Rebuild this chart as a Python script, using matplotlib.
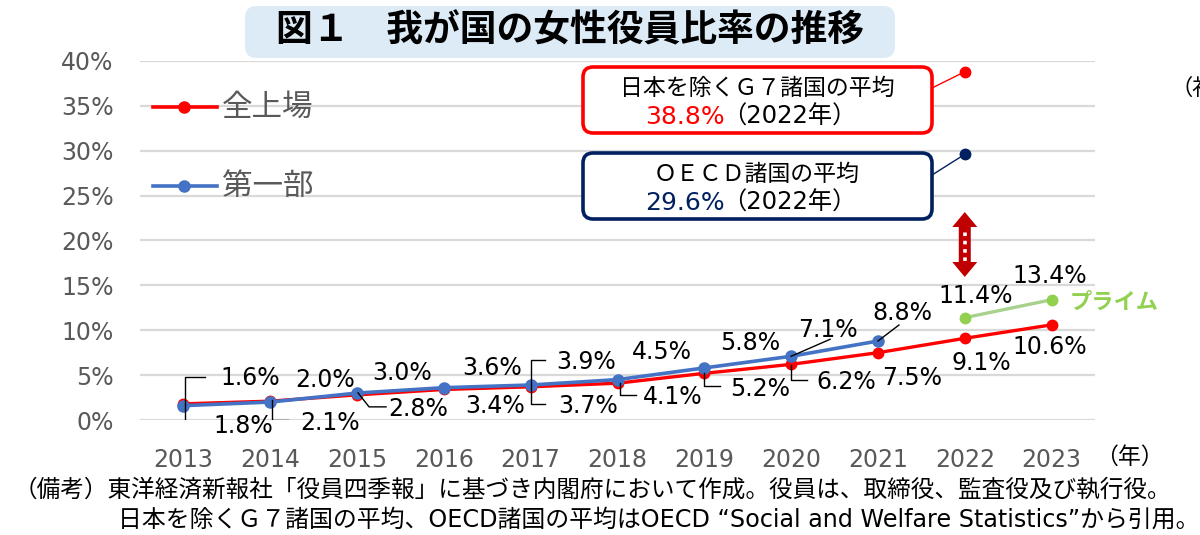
import matplotlib
matplotlib.use("Agg")
import matplotlib.pyplot as plt
from matplotlib.patches import FancyBboxPatch, Polygon
from matplotlib.transforms import IdentityTransform

plt.rcParams['font.family'] = ['DejaVu Sans', 'Noto Sans CJK JP']

# data
years = [2013, 2014, 2015, 2016, 2017, 2018, 2019, 2020, 2021, 2022, 2023]
zenjo = [1.8, 2.1, 2.8, 3.4, 3.7, 4.1, 5.2, 6.2, 7.5, 9.1, 10.6]
ichibu_years = [2013, 2014, 2015, 2016, 2017, 2018, 2019, 2020, 2021]
ichibu = [1.6, 2.0, 3.0, 3.6, 3.9, 4.5, 5.8, 7.1, 8.8]
prime_years = [2022, 2023]
prime = [11.4, 13.4]
ref_year = 2022
g7_avg = 38.8
oecd_avg = 29.6
yticks = [0, 5, 10, 15, 20, 25, 30, 35, 40]

# label offsets in pixels (dx, dy up)
zenjo_off = [(60, -22), (60, -22), (61, -14), (51, -17), (57, -19), (55, -14),
             (56, -16), (55, -18), (34, -25), (17, -25), (-2, -22)]
ichibu_off = [(67, 28), (55, 22), (45, 20), (48, 20), (55, 23), (44, 28),
              (46, 25), (37, 26), (24, 28)]
prime_off = [(11, 22), (-2, 24)]

# leader lines: (series, index, vertices as pixel offsets from the point)
leaders = [
    ('z', 0, [(22, 27), (2, 27), (2, -19), (22, -19)]),
    ('z', 1, [(2, 1), (2, -19), (18, -19)]),
    ('z', 2, [(1, 2), (12, -12), (29, -12)]),
    ('z', 4, [(14, 27), (0, 27), (0, -17), (14, -17)]),
    ('z', 5, [(2, 0), (2, -12), (18, -12)]),
    ('z', 6, [(0, 0), (0, -13), (16, -13)]),
    ('i', 7, [(0, 0), (39, 17)]),
    ('z', 7, [(0, -1), (0, -16), (16, -16)]),
    ('i', 8, [(0, 0), (21, 16)]),
]

RED = '#FF0000'
BLUE = '#4472C4'
NAVY = '#002060'
GREEN = '#92D050'
GREEN_L = '#A9D18E'
GRAY = '#595959'

W, H = 1200, 535
fig = plt.figure(figsize=(W / 100, H / 100), dpi=100)
L, R, T, B = 140, 1095, 61, 420
ax = fig.add_axes([L / W, 1 - B / H, (R - L) / W, (B - T) / H])
ax.set_xlim(2012.5, 2023.5)
ax.set_ylim(0, 40)
kx = 11 / (R - L)
ky = 40 / (B - T)

ax.set_yticks(yticks)
ax.set_yticklabels(['%d%%' % v for v in yticks])
ax.set_xticks(years)
ax.set_xticklabels([str(y) for y in years])
ax.yaxis.grid(True, color='#D9D9D9', lw=1.6)
ax.set_axisbelow(True)
for s in ax.spines.values():
    s.set_visible(False)
ax.tick_params(axis='y', length=0, pad=19, labelsize=17, labelcolor=GRAY)
ax.tick_params(axis='x', length=0, pad=20, labelsize=17, labelcolor=GRAY)

# lines
ax.plot(years, zenjo, color=RED, lw=2.4, marker='o', ms=7.5, zorder=3)
ax.plot(ichibu_years, ichibu, color=BLUE, lw=2.6, marker='o', ms=8, zorder=4)
ax.plot(prime_years, prime, color=GREEN_L, lw=2.4, zorder=3)
ax.plot(prime_years, prime, ls='none', color=GREEN, marker='o', ms=7.5, zorder=3)
ax.plot([ref_year], [g7_avg], 'o', color=RED, ms=7.5, zorder=4)
ax.plot([ref_year], [oecd_avg], 'o', color=NAVY, ms=7.5, zorder=4)

# data labels
def label(xs, vs, offs):
    for x, v, (dx, dy) in zip(xs, vs, offs):
        ax.text(x + dx * kx, v + dy * ky, '%.1f%%' % v, ha='center', va='center',
                fontsize=17, color='black', zorder=5)

label(years, zenjo, zenjo_off)
label(ichibu_years, ichibu, ichibu_off)
label(prime_years, prime, prime_off)

for ser, i, verts in leaders:
    if ser == 'z':
        x0, y0 = years[i], zenjo[i]
    else:
        x0, y0 = ichibu_years[i], ichibu[i]
    ax.plot([x0 + dx * kx for dx, dy in verts], [y0 + dy * ky for dx, dy in verts],
            color='black', lw=1.0, zorder=5)

ax.text(2023 + 18 * kx, 13.4 - 0.3, 'プライム', color=GREEN, fontsize=16, fontweight='bold',
        ha='left', va='center', family=['Noto Sans CJK JP'])

# legend drawn by hand
def px(x, y):
    return x, H - y

for yy, col, name in [(107, RED, '全上場'), (186, BLUE, '第一部')]:
    fig.add_artist(plt.Line2D([153 / W, 217 / W], [1 - yy / H, 1 - yy / H], color=col, lw=2.6))
    fig.add_artist(plt.Line2D([184 / W], [1 - yy / H], color=col, marker='o', ms=8))
    fig.text(222 / W, 1 - yy / H, name, fontsize=22, color=GRAY, va='center', ha='left',
             family=['Noto Sans CJK JP'])

# title box
tb = FancyBboxPatch(px(245, 58), 650, 52, boxstyle='round,pad=0,rounding_size=12',
                    transform=IdentityTransform(), fc='#DDEBF7', ec='none')
fig.add_artist(tb)
fig.text(570 / W, 1 - 31 / H, '図１　我が国の女性役員比率の推移', fontsize=26.5, fontweight='bold',
         ha='center', va='center', family=['Noto Sans CJK JP'])

# callout boxes (figure level, drawn over the axes)
for top, col, head, val, val_y, lead_y in [(67, RED, '日本を除くＧ７諸国の平均', g7_avg, 117, 88),
                                          (153, NAVY, 'ＯＥＣＤ諸国の平均', oecd_avg, 203, 175)]:
    bx = FancyBboxPatch(px(583, top + 66), 349, 66, boxstyle='round,pad=0,rounding_size=10',
                        transform=IdentityTransform(), fc='white', ec=col, lw=2.6, zorder=6)
    fig.add_artist(bx)
    fig.text(757 / W, 1 - (top + 21) / H, head, fontsize=16.5, ha='center', va='center',
             family=['Noto Sans CJK JP', 'DejaVu Sans'], zorder=7)
    fig.text(645 / W, 1 - val_y / H, '%.1f%%' % val, fontsize=18, color=col,
             ha='left', va='center', zorder=7)
    fig.text(722 / W, 1 - val_y / H, '（2022年）', fontsize=17.5, ha='left', va='center',
             family=['DejaVu Sans', 'Noto Sans CJK JP'], zorder=7)
    ax.annotate('', xy=(ref_year, val), xytext=(932, H - lead_y), textcoords='figure pixels',
                arrowprops=dict(arrowstyle='-', color=col, lw=1.0, shrinkA=0, shrinkB=0),
                annotation_clip=False)

# gap arrow (double headed block arrow with white dots)
y_top = (B - 212) * ky
y_bot = (B - 277) * ky
hw, sw, hl = 12.5, 6, 15
verts = [(0, 0), (hw, -hl), (sw, -hl), (sw, -(65 - hl)), (hw, -(65 - hl)), (0, -65),
         (-hw, -(65 - hl)), (-sw, -(65 - hl)), (-sw, -hl), (-hw, -hl)]
ax.add_patch(Polygon([(ref_year + dx * kx, y_top + dy * ky) for dx, dy in verts],
                     closed=True, fc='#C00000', ec='none', zorder=5))
ax.plot([ref_year, ref_year], [y_bot + 16 * ky, y_top - 16 * ky], color='white', lw=2.6,
        ls=(0, (1, 1.3)), zorder=6)

ax.text(2023.5, -37 * ky, '（年）', fontsize=16.5, ha='left', va='center',
        family=['Noto Sans CJK JP'], clip_on=False)
fig.text(1170 / W, 1 - 88 / H, '（社', fontsize=16, ha='left', va='center', family=['Noto Sans CJK JP'])

# notes
fig.text(14 / W, 1 - 490 / H, '（備考）東洋経済新報社「役員四季報」に基づき内閣府において作成。役員は、取締役、監査役及び執行役。',
         fontsize=17, ha='left', va='center', family=['Noto Sans CJK JP'])
fig.text(118 / W, 1 - 520 / H, '日本を除くＧ７諸国の平均、OECD諸国の平均はOECD “Social and Welfare Statistics”から引用。',
         fontsize=17.2, ha='left', va='center', family=['DejaVu Sans', 'Noto Sans CJK JP'])

fig.savefig('out.png', dpi=100)
